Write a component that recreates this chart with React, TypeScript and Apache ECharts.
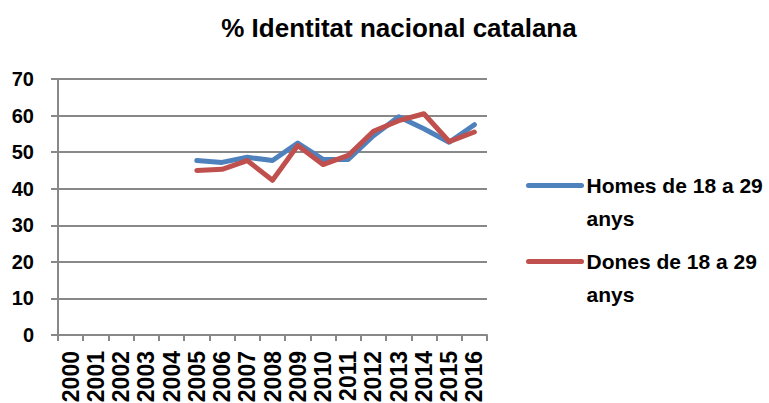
import React, { useEffect, useRef } from 'react';
import * as echarts from 'echarts';

const titleText = '% Identitat nacional catalana';
const years = ['2000', '2001', '2002', '2003', '2004', '2005', '2006', '2007', '2008', '2009', '2010', '2011', '2012', '2013', '2014', '2015', '2016'];
const homesName = 'Homes de 18 a 29 anys';
const donesName = 'Dones de 18 a 29 anys';
const homes = [null, null, null, null, null, 47.7, 47.2, 48.6, 47.7, 52.5, 48.0, 48.0, 54.5, 59.7, 56.4, 52.7, 57.5];
const dones = [null, null, null, null, null, 45.0, 45.3, 47.7, 42.3, 51.8, 46.6, 49.1, 55.7, 58.6, 60.5, 52.9, 55.5];
const yMin = 0;
const yMax = 70;
const yStep = 10;

const SANS = "'Liberation Sans', Arial, sans-serif";
const GRID_COLOR = '#888888';

export default function App() {
  const ref = useRef<HTMLDivElement>(null);
  useEffect(() => {
    if (!ref.current) return;
    const chart = echarts.init(ref.current, undefined, { renderer: 'svg' });
    chart.setOption({
      animation: false,
      backgroundColor: '#ffffff',
      title: {
        text: titleText,
        left: 394,
        textAlign: 'center',
        top: 10,
        textStyle: { fontFamily: SANS, fontSize: 26, fontWeight: 'bold', color: '#000' },
      },
      legend: {
        orient: 'vertical',
        left: 521,
        top: 131,
        itemWidth: 53,
        itemHeight: 6,
        itemGap: -23,
        itemStyle: { opacity: 0 },
        lineStyle: { width: 5, cap: 'round' },
        formatter: (name: string) => ' \n' + name.replace(' anys', '\nanys'),
        textStyle: {
          fontFamily: SANS,
          fontSize: 21,
          fontWeight: 'bold',
          color: '#000',
          lineHeight: 33,
        },
        data: [homesName, donesName],
      },
      grid: {
        left: 58,
        right: 282,
        top: 79,
        bottom: 68,
        containLabel: false,
        outerBoundsMode: 'none',
      },
      xAxis: {
        type: 'category',
        data: years,
        boundaryGap: true,
        axisLine: { show: true, lineStyle: { color: GRID_COLOR, width: 2 } },
        axisTick: { show: true, length: 6, lineStyle: { color: GRID_COLOR, width: 2 } },
        axisLabel: {
          rotate: 90,
          interval: 0,
          margin: 16,
          fontFamily: SANS,
          fontSize: 23,
          fontWeight: 'bold',
          color: '#000',
        },
        splitLine: { show: false },
      },
      yAxis: {
        type: 'value',
        min: yMin,
        max: yMax,
        interval: yStep,
        axisLine: { show: true, lineStyle: { color: GRID_COLOR, width: 2 } },
        axisTick: { show: true, length: 7, lineStyle: { color: GRID_COLOR, width: 2 } },
        axisLabel: {
          margin: 24,
          fontFamily: SANS,
          fontSize: 20,
          fontWeight: 'bold',
          color: '#000',
        },
        splitLine: { show: true, lineStyle: { color: GRID_COLOR, width: 2 } },
      },
      series: [
        {
          name: homesName,
          type: 'line',
          data: homes,
          symbol: 'none',
          color: '#4F81BD',
          lineStyle: { width: 5, color: '#4F81BD', cap: 'round', join: 'round' },
        },
        {
          name: donesName,
          type: 'line',
          data: dones,
          symbol: 'none',
          color: '#C0504D',
          lineStyle: { width: 5, color: '#C0504D', cap: 'round', join: 'round' },
        },
      ],
    });
    return () => chart.dispose();
  }, []);
  return (
    <div
      ref={ref}
      style={{ position: 'fixed', left: 0, top: 0, width: 769, height: 403, background: '#fff' }}
    />
  );
}
